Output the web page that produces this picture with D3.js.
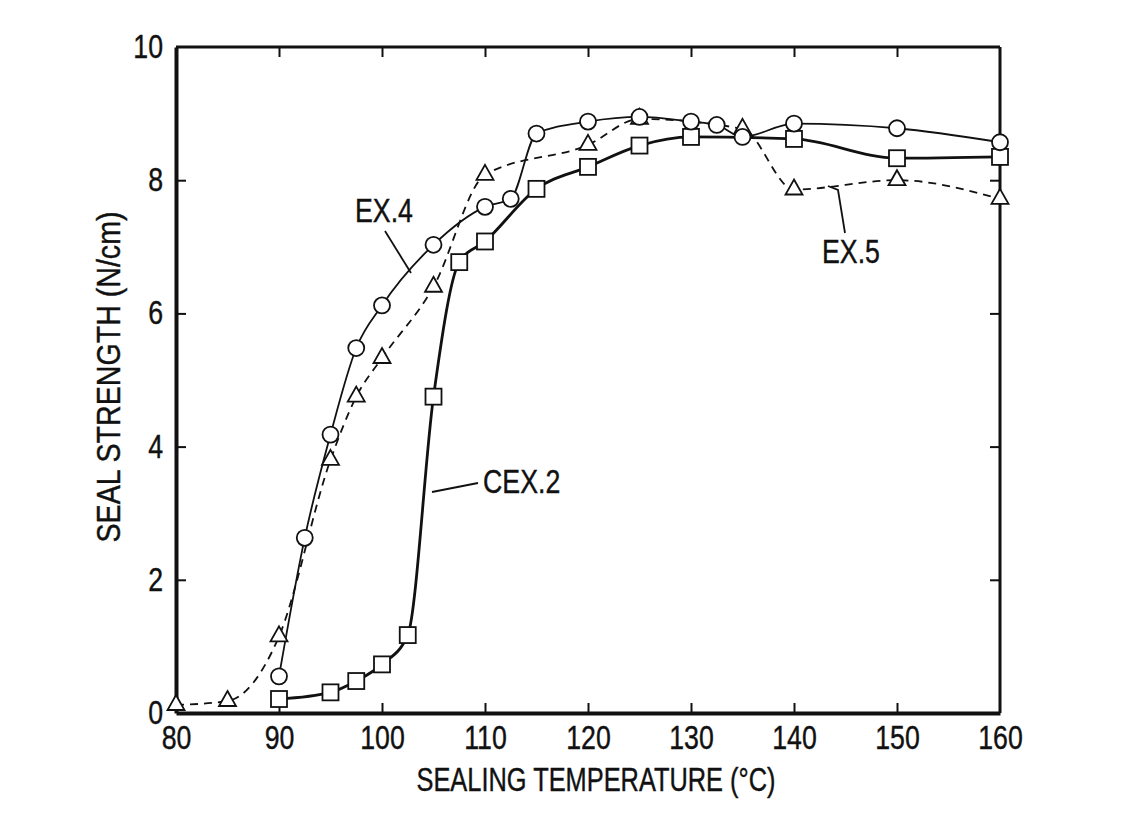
<!DOCTYPE html>
<html><head><meta charset="utf-8">
<script src="https://cdn.jsdelivr.net/npm/d3@7"></script>
<style>
html,body{margin:0;padding:0;background:#fff;}
text{font-family:'Liberation Sans',Arial,sans-serif;fill:#111;stroke:#111;stroke-width:0.4px;}
</style></head>
<body>
<svg id="chart" width="1144" height="825"></svg>
<script>
// ---- data ----
const xTicks = [80, 90, 100, 110, 120, 130, 140, 150, 160];
const yTicks = [0, 2, 4, 6, 8, 10];

const ex4Temp = [90, 92.5, 95, 97.5, 100, 105, 110, 112.5, 115, 120, 125, 130, 132.5, 135, 140, 150, 160];
const ex4Str  = [0.55, 2.63, 4.18, 5.48, 6.12, 7.03, 7.6, 7.72, 8.7, 8.88, 8.95, 8.88, 8.83, 8.65, 8.85, 8.78, 8.57];

const ex5Temp = [80, 85, 90, 95, 97.5, 100, 105, 110, 120, 125, 135, 140, 150, 160];
const ex5Str  = [0.12, 0.18, 1.15, 3.8, 4.75, 5.33, 6.4, 8.08, 8.53, 8.92, 8.77, 7.86, 8.0, 7.72];

const cex2Temp = [90, 95, 97.5, 100, 102.5, 105, 107.5, 110, 115, 120, 125, 130, 140, 150, 160];
const cex2Str  = [0.21, 0.31, 0.48, 0.73, 1.17, 4.75, 6.77, 7.08, 7.87, 8.2, 8.52, 8.65, 8.62, 8.33, 8.35];

const xTitle = "SEALING TEMPERATURE (°C)";
const yTitle = "SEAL STRENGTH (N/cm)";

// ---- layout ----
const svg = d3.select("#chart");
const L = 176, R = 1000, T = 47, B = 713;
const x = d3.scaleLinear().domain([80, 160]).range([L, R]);
const y = d3.scaleLinear().domain([0, 10]).range([B, T]);

const zip = (a, b) => a.map((v, i) => [v, b[i]]);
const line = d3.line().x(d => x(d[0])).y(d => y(d[1])).curve(d3.curveMonotoneX);

// frame
const g = svg.append("g");
g.append("line").attr("x1", L).attr("x2", R).attr("y1", T).attr("y2", T).attr("stroke", "#111").attr("stroke-width", 3);
g.append("line").attr("x1", R).attr("x2", R).attr("y1", T).attr("y2", B).attr("stroke", "#111").attr("stroke-width", 3);

// bottom axis
const xa = svg.append("g").attr("transform", `translate(0,${B})`)
  .call(d3.axisBottom(x).tickValues(xTicks).tickSizeInner(-10).tickSizeOuter(0).tickPadding(13).tickFormat(d3.format("d")));
xa.select(".domain").attr("stroke", "#111").attr("stroke-width", 4);
xa.selectAll(".tick line").attr("stroke", "#111").attr("stroke-width", 2)
  .filter(d => d === 80 || d === 160).remove();
xa.selectAll(".tick text").style("font-size", "33px").style("font-family", "'Liberation Sans',Arial,sans-serif").classed("cond", true);

// left axis
const ya = svg.append("g").attr("transform", `translate(${L},0)`)
  .call(d3.axisLeft(y).tickValues(yTicks).tickSizeInner(-10).tickSizeOuter(0).tickPadding(13).tickFormat(d3.format("d")));
ya.select(".domain").attr("stroke", "#111").attr("stroke-width", 4);
ya.selectAll(".tick line").attr("stroke", "#111").attr("stroke-width", 2)
  .filter(d => d === 0 || d === 10).remove();
ya.selectAll(".tick text").style("font-size", "33px").style("font-family", "'Liberation Sans',Arial,sans-serif").classed("cond", true);

// top & right inward ticks
const xa2 = svg.append("g").attr("transform", `translate(0,${T})`)
  .call(d3.axisTop(x).tickValues(xTicks.slice(1, -1)).tickSizeInner(-10).tickSizeOuter(0).tickFormat(""));
xa2.select(".domain").remove();
xa2.selectAll(".tick line").attr("stroke", "#111").attr("stroke-width", 2);
const ya2 = svg.append("g").attr("transform", `translate(${R},0)`)
  .call(d3.axisRight(y).tickValues(yTicks.slice(1, -1)).tickSizeInner(-10).tickSizeOuter(0).tickFormat(""));
ya2.select(".domain").remove();
ya2.selectAll(".tick line").attr("stroke", "#111").attr("stroke-width", 2);

// titles
svg.append("text").attr("x", 596).attr("y", 791).attr("text-anchor", "middle")
  .style("font-size", "33px").attr("textLength", 359).attr("lengthAdjust", "spacingAndGlyphs").text(xTitle);
svg.append("text").attr("transform", "translate(120,377) rotate(-90)").attr("text-anchor", "middle")
  .style("font-size", "33px").attr("textLength", 331).attr("lengthAdjust", "spacingAndGlyphs").text(yTitle);

// lines
const ex5 = zip(ex5Temp, ex5Str), ex4 = zip(ex4Temp, ex4Str), cex2 = zip(cex2Temp, cex2Str);
svg.append("path").datum(ex5).attr("d", line).attr("fill", "none").attr("stroke", "#111")
  .attr("stroke-width", 1.8).attr("stroke-dasharray", "8,6");
svg.append("path").datum(ex4).attr("d", line).attr("fill", "none").attr("stroke", "#111").attr("stroke-width", 1.8);
svg.append("path").datum(cex2).attr("d", line).attr("fill", "none").attr("stroke", "#111").attr("stroke-width", 2.8);

// markers
const mk = { fill: "#fff", stroke: "#111", sw: 1.8 };
svg.append("g").selectAll("rect").data(cex2).join("rect")
  .attr("x", d => x(d[0]) - 8).attr("y", d => y(d[1]) - 8).attr("width", 16).attr("height", 16)
  .attr("fill", mk.fill).attr("stroke", mk.stroke).attr("stroke-width", mk.sw);
svg.append("g").selectAll("path").data(ex5).join("path")
  .attr("d", d => { const cx = x(d[0]), cy = y(d[1]); return `M${cx},${cy - 10}L${cx + 8.5},${cy + 5}L${cx - 8.5},${cy + 5}Z`; })
  .attr("fill", mk.fill).attr("stroke", mk.stroke).attr("stroke-width", mk.sw);
svg.append("g").selectAll("circle").data(ex4).join("circle")
  .attr("cx", d => x(d[0])).attr("cy", d => y(d[1])).attr("r", 8)
  .attr("fill", mk.fill).attr("stroke", mk.stroke).attr("stroke-width", mk.sw);

// annotations
const ann = svg.append("g");
ann.append("text").attr("x", 355).attr("y", 222).style("font-size", "33px").classed("cond", true).text("EX.4");
ann.append("line").attr("x1", 385).attr("y1", 231).attr("x2", 411).attr("y2", 273).attr("stroke", "#111").attr("stroke-width", 1.8);
ann.append("text").attr("x", 483).attr("y", 493).style("font-size", "33px").classed("cond", true).text("CEX.2");
ann.append("line").attr("x1", 432).attr("y1", 492).attr("x2", 478).attr("y2", 483).attr("stroke", "#111").attr("stroke-width", 1.8);
ann.append("text").attr("x", 822).attr("y", 263).style("font-size", "33px").classed("cond", true).text("EX.5");
ann.append("path").attr("d", "M845,233L838,190L828,186").attr("fill", "none").attr("stroke", "#111").attr("stroke-width", 1.8);

// condense text horizontally (narrow grotesque look)
svg.selectAll("text.cond").each(function () {
  const w = this.getComputedTextLength();
  if (w > 0) d3.select(this).attr("textLength", w * 0.81).attr("lengthAdjust", "spacingAndGlyphs");
});
</script>
</body></html>
